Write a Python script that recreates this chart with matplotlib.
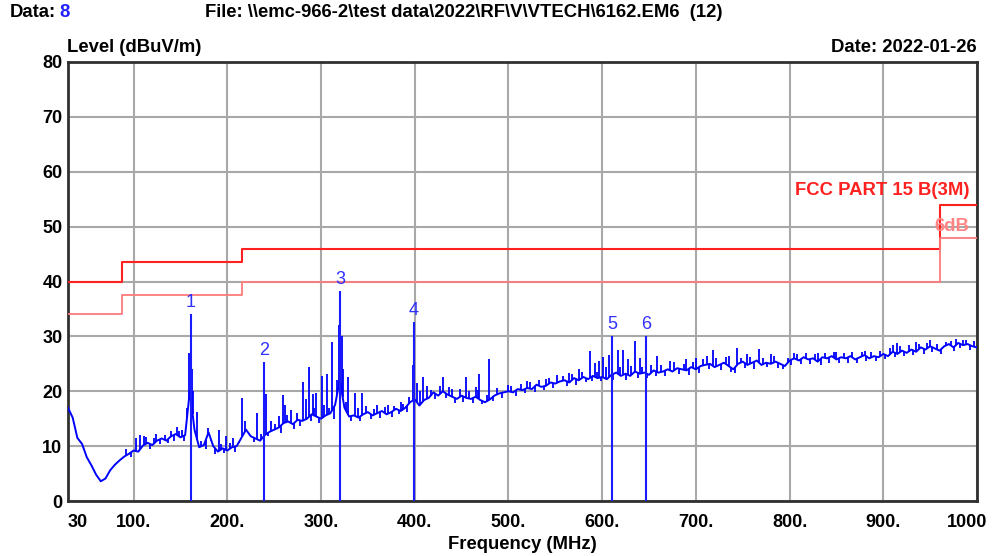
import numpy as np
import matplotlib.pyplot as plt
from matplotlib.transforms import ScaledTranslation

plt.rcParams['font.family'] = ['Liberation Sans', 'DejaVu Sans']

# sweep: 30..1000 MHz, 5 MHz steps (levels)
freq = np.arange(30, 1001, 5)
level = [17.0, 15.2, 11.5, 10.4, 8.0, 6.5, 4.8, 3.6, 4.1, 5.6,
         6.6, 7.4, 8.1, 8.6, 9.2, 9.0, 10.1, 10.6, 10.2, 11.0,
         11.4, 11.0, 11.8, 12.2, 11.6, 12.0, 20.0, 13.0, 9.8, 10.2,
         12.5, 10.0, 9.0, 9.6, 9.2, 9.8, 10.0, 11.5, 13.0, 11.8,
         11.4, 11.0, 12.0, 12.6, 13.0, 13.4, 14.2, 14.5, 14.0, 14.8,
         14.6, 15.0, 15.8, 15.4, 15.0, 15.6, 16.0, 17.5, 22.0, 17.0,
         15.4, 15.6, 15.2, 15.8, 16.2, 15.6, 16.0, 16.4, 15.8, 16.2,
         16.8, 16.4, 17.0, 18.0, 18.5, 17.4, 18.4, 18.8, 19.8, 19.2,
         20.0, 19.4, 19.0, 18.6, 19.2, 18.8, 18.6, 19.0, 18.4, 18.0,
         18.5, 19.2, 19.6, 19.8, 20.0, 19.8, 20.4, 20.2, 20.6, 20.4,
         21.2, 20.8, 21.0, 21.6, 21.4, 21.8, 22.0, 21.6, 22.4, 22.0,
         22.6, 22.2, 22.8, 22.4, 22.6, 22.2, 23.0, 23.4, 22.8, 23.2,
         22.8, 23.6, 23.2, 23.4, 23.0, 23.8, 23.4, 23.6, 24.0, 23.6,
         24.2, 24.0, 23.8, 24.4, 24.0, 24.6, 24.8, 25.0, 24.4, 24.8,
         25.2, 24.6, 24.0, 25.0, 25.4, 24.8, 25.2, 25.6, 24.8, 25.2,
         25.0, 25.4, 25.0, 24.6, 25.6, 26.0, 25.6, 26.2, 25.8, 26.0,
         25.4, 26.2, 26.0, 26.4, 25.8, 26.2, 26.0, 26.4, 25.8, 26.2,
         26.6, 26.0, 26.4, 26.2, 26.8, 26.4, 27.2, 26.8, 27.4, 27.0,
         27.6, 27.2, 28.0, 27.6, 28.2, 27.8, 27.4, 28.2, 28.6, 28.0,
         28.8, 28.4, 28.6, 28.2, 28.0]

# narrow spikes on the trace
spike_f = [103, 107, 113, 124, 140, 146, 152, 157, 159, 162, 163, 168, 179,
           191, 199, 206, 216, 219, 232, 241, 247, 255, 259, 262, 268, 281,
           284, 287, 291, 295, 301, 306, 312, 317, 319, 322, 323, 329, 336,
           344, 360, 372, 385, 394, 398, 402, 409, 413, 430, 440, 455, 465,
           469, 479, 500, 520, 540, 552, 565, 575, 587, 592, 597, 601, 607,
           617, 622, 628, 635, 640, 659, 672, 690, 700, 712, 718, 735, 744,
           755, 767, 780, 805, 830, 850, 880, 910, 915, 935, 950, 972, 985]
spike_lv = [11.5, 12.0, 11.6, 12.3, 12.8, 13.5, 13.0, 17.0, 27.0, 24.0, 20.0,
            16.3, 13.3, 13.0, 11.8, 11.5, 18.8, 14.5, 16.0, 19.5, 14.5, 15.5,
            19.3, 17.5, 16.5, 21.7, 18.5, 24.4, 19.5, 19.7, 22.8, 23.1, 29.0,
            22.0, 32.0, 30.0, 24.0, 22.6, 19.7, 19.7, 17.5, 17.5, 18.0, 19.0,
            24.8, 21.5, 22.6, 21.0, 22.6, 20.5, 22.6, 20.8, 23.1, 25.9, 21.2,
            21.8, 22.2, 23.0, 23.4, 24.0, 27.3, 25.2, 25.6, 26.2, 26.6, 27.5,
            27.5, 25.8, 29.1, 26.0, 26.4, 25.5, 25.8, 26.0, 26.5, 27.5, 26.5,
            27.9, 26.8, 27.7, 26.8, 27.0, 27.0, 27.2, 27.4, 28.4, 28.8, 29.0,
            29.4, 29.2, 29.4]

# small up/down noise excursions between sweep points
jit_f = [92, 97, 111, 118, 122, 128, 133, 137, 143, 148, 154, 172, 177, 183,
         187, 193, 197, 203, 208, 212, 223, 228, 236, 243, 251, 257, 264, 271,
         274, 278, 289, 293, 298, 303, 309, 314, 327, 332, 339, 342, 348, 353,
         357, 363, 368, 376, 378, 383, 388, 392, 406, 417, 422, 427, 433, 437,
         443, 448, 452, 458, 462, 467, 472, 477, 483, 488, 493, 503, 508, 513,
         518, 523, 528, 533, 538, 543, 548, 558, 562, 568, 572, 578, 583, 589,
         594, 599, 604, 612, 619, 625, 631, 638, 643, 648, 652, 657, 663, 667,
         677, 682, 687, 693, 697, 703, 708, 714, 722, 727, 732, 738, 742, 748,
         752, 758, 762, 772, 776, 783, 788, 793, 798, 802, 808, 812, 818, 822,
         827, 833, 838, 842, 847, 853, 858, 862, 867, 872, 877, 882, 887, 892,
         897, 902, 907, 912, 918, 922, 927, 932, 938, 943, 947, 952, 957, 962,
         967, 975, 978, 982, 988, 992, 997]
jit_lv = [9.5, 8.0, 11.8, 9.4, 11.4, 10.4, 12.0, 10.6, 11.0, 12.8, 11.0, 11.0,
          9.4, 11.2, 8.6, 10.4, 8.8, 10.6, 9.0, 10.8, 12.4, 10.8, 12.2, 11.8,
          14.0, 12.4, 15.6, 13.2, 16.0, 13.6, 14.6, 17.0, 14.2, 17.5, 17.0,
          15.0, 18.0, 14.6, 17.0, 14.6, 17.4, 15.0, 16.8, 15.2, 17.2, 15.4,
          17.4, 15.8, 17.6, 16.2, 20.0, 20.2, 18.6, 21.0, 18.8, 20.8, 17.8,
          20.4, 18.0, 20.0, 17.8, 20.2, 17.6, 19.4, 18.2, 20.6, 18.8, 21.0,
          19.2, 21.4, 19.6, 21.6, 19.8, 22.0, 20.2, 22.4, 20.6, 22.8, 21.0,
          23.2, 21.2, 23.6, 21.6, 21.8, 23.6, 21.8, 24.4, 22.0, 24.4, 22.0,
          24.6, 22.4, 24.4, 22.4, 24.8, 22.8, 24.8, 22.8, 25.4, 23.2, 25.0,
          23.0, 25.4, 23.4, 25.8, 24.0, 26.0, 23.8, 26.2, 23.6, 23.4, 26.0,
          24.2, 26.2, 24.0, 26.0, 24.4, 26.4, 24.2, 24.0, 26.0, 24.8, 26.8,
          25.0, 27.0, 25.0, 26.8, 24.8, 27.0, 25.2, 27.2, 25.2, 27.0, 25.2,
          27.2, 25.2, 27.2, 25.6, 27.2, 25.6, 27.4, 25.8, 27.8, 26.2, 28.2,
          26.4, 28.4, 26.6, 28.6, 26.8, 28.8, 27.2, 28.6, 26.8, 29.0, 27.4,
          29.6, 27.8, 29.4, 27.6, 29.2]

marker_f = [161.3, 239.2, 320.3, 399.3, 610.6, 646.9]
marker_lv = [34.1, 25.3, 38.3, 32.6, 30.0, 30.0]

# FCC Part 15 B (3 m) limit and the 6 dB margin line
lim_f = [30, 88, 88, 216, 216, 960, 960, 1000]
lim_lv = [40, 40, 43.5, 43.5, 46, 46, 54, 54]
margin_lv = [34, 34, 37.5, 37.5, 40, 40, 48, 48]

xticks = [30, 100, 200, 300, 400, 500, 600, 700, 800, 900, 1000]
xlabels = ['30', '100.', '200.', '300.', '400.', '500.', '600.', '700.', '800.', '900.', '1000']

fig = plt.figure(figsize=(9.94, 5.56), dpi=100)
ax = fig.add_axes([0.0684, 0.0989, 0.9145, 0.7896])

ax.plot(lim_f, lim_lv, color='#ff2020', lw=1.5, zorder=3)
ax.plot(lim_f, margin_lv, color='#ff7a7a', lw=1.3, zorder=3)

ax.plot(freq, level, color='#0000ff', lw=1.4, zorder=4)
ax.vlines(jit_f, np.interp(jit_f, freq, level), jit_lv, color='#0000ff', lw=1.3, zorder=4)
ax.vlines(spike_f, np.interp(spike_f, freq, level), spike_lv, color='#0000ff', lw=1.3, zorder=4)

ax.vlines(marker_f, 0, marker_lv, color='#1a1aff', lw=1.5, zorder=5)
for i, (f, v) in enumerate(zip(marker_f, marker_lv)):
    ax.text(f, v + 0.6, str(i + 1), color='#3030ff', fontsize=13,
            ha='center', va='bottom', zorder=6)

ax.text(992, 56.6, 'FCC PART 15 B(3M)', color='#ff2020', fontsize=13.3,
        fontweight='bold', ha='right', va='center')
ax.text(992, 50.1, '6dB', color='#ff8585', fontsize=13.3,
        fontweight='bold', ha='right', va='center')

ax.set_xlim(30, 1000)
ax.set_ylim(0, 80)
ax.set_yticks(range(0, 81, 10))
ax.set_xticks(xticks)
ax.set_xticklabels(xlabels)
ax.grid(True, color='#a8a8a8', lw=1.5)
ax.set_axisbelow(True)
ax.tick_params(axis='x', length=0, labelsize=13, pad=9)
ax.tick_params(axis='y', length=0, labelsize=13, pad=4)
for lab in ax.get_xticklabels() + ax.get_yticklabels():
    lab.set_fontweight('bold')
xl = ax.get_xticklabels()
xl[0].set_horizontalalignment('left')
# last label sits a little left of the axis end, like the original
xl[-1].set_transform(xl[-1].get_transform() + ScaledTranslation(-0.1, 0, fig.dpi_scale_trans))
for s in ax.spines.values():
    s.set_linewidth(2)
    s.set_color('#303030')

ax.set_xlabel('Frequency (MHz)', fontsize=13.3, fontweight='bold', labelpad=4)

fig.text(0.010, 0.978, 'Data:', fontsize=13.3, fontweight='bold', va='center')
fig.text(0.060, 0.978, '8', fontsize=13.3, fontweight='bold', va='center', color='#2020ff')
fig.text(0.206, 0.978, 'File: \\\\emc-966-2\\test data\\2022\\RF\\V\\VTECH\\6162.EM6  (12)',
         fontsize=13.3, fontweight='bold', va='center')
fig.text(0.0674, 0.915, 'Level (dBuV/m)', fontsize=13.3, fontweight='bold', va='center')
fig.text(0.983, 0.915, 'Date: 2022-01-26', fontsize=13.3, fontweight='bold',
         va='center', ha='right')

fig.savefig('out.png', dpi=100)
